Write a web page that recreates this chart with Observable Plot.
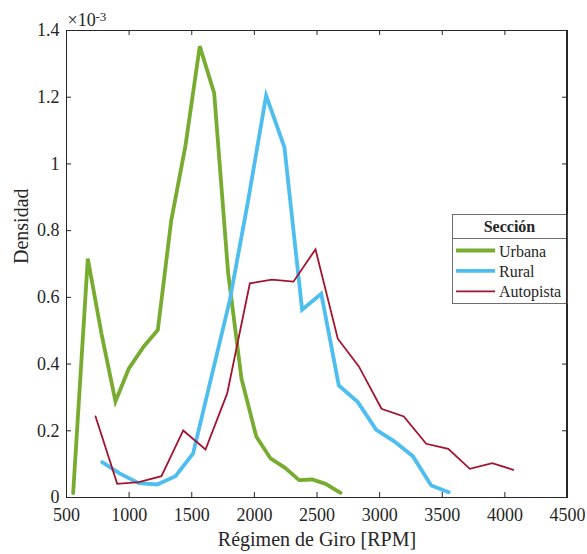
<!DOCTYPE html>
<html>
<head>
<meta charset="utf-8">
<script src="https://cdn.jsdelivr.net/npm/d3@7"></script>
<script src="https://cdn.jsdelivr.net/npm/@observablehq/plot@0.6"></script>
<style>
  html, body { margin: 0; padding: 0; background: #fff; }
  #chart svg { display: block; }
</style>
</head>
<body>
<div id="chart"></div>
<script>
// Engine speed (RPM) bin centres and density (×10⁻³) per road section
const urbanaRpm = [553, 670, 780, 891, 997, 1117, 1229, 1336, 1450, 1564, 1679, 1790, 1897, 2015, 2129, 2245, 2357, 2462, 2568, 2688];
const urbanaDens = [0.013, 0.716, 0.49, 0.288, 0.386, 0.453, 0.502, 0.830, 1.055, 1.353, 1.212, 0.675, 0.356, 0.183, 0.117, 0.089, 0.052, 0.054, 0.041, 0.014];

const ruralRpm = [785, 920, 1077, 1224, 1370, 1511, 1656, 1803, 1950, 2094, 2240, 2381, 2534, 2674, 2826, 2973, 3114, 3265, 3412, 3552];
const ruralDens = [0.106, 0.073, 0.043, 0.039, 0.064, 0.132, 0.36, 0.59, 0.89, 1.205, 1.050, 0.563, 0.611, 0.336, 0.286, 0.203, 0.169, 0.124, 0.036, 0.016];

const autopistaRpm = [732, 905, 1077, 1258, 1432, 1610, 1783, 1964, 2140, 2312, 2488, 2666, 2834, 3015, 3193, 3372, 3548, 3720, 3899, 4067];
const autopistaDens = [0.243, 0.041, 0.046, 0.064, 0.201, 0.144, 0.312, 0.642, 0.653, 0.647, 0.744, 0.476, 0.393, 0.266, 0.243, 0.161, 0.146, 0.086, 0.103, 0.083];

const sections = ["Urbana", "Rural", "Autopista"];
const sectionColors = ["#77AC30", "#4DBEEE", "#A2142F"];
const sectionWidths = [3.8, 3.8, 1.8];

const xTicks = [500, 1000, 1500, 2000, 2500, 3000, 3500, 4000, 4500];
const yTicks = [0, 0.2, 0.4, 0.6, 0.8, 1, 1.2, 1.4];
const yTickLabels = ["0", "0.2", "0.4", "0.6", "0.8", "1", "1.2", "1.4"];

const series = [
  {name: "Urbana", rpm: urbanaRpm, dens: urbanaDens},
  {name: "Rural", rpm: ruralRpm, dens: ruralDens},
  {name: "Autopista", rpm: autopistaRpm, dens: autopistaDens}
];
const rows = series.flatMap(s => s.rpm.map((r, i) => ({section: s.name, rpm: r, dens: s.dens[i]})));

const W = 587, H = 554;
const mL = 66, mR = 20, mT = 30, mB = 57;
const innerW = W - mL - mR, innerH = H - mT - mB;
const tickLen = 5;
const axisColor = "#262626";
const font = "'Liberation Serif', 'Times New Roman', serif";

const lineMarks = series.map((s, i) =>
  Plot.line(rows.filter(d => d.section === s.name), {
    x: "rpm", y: "dens", stroke: sectionColors[i], strokeWidth: sectionWidths[i],
    strokeLinejoin: "miter", strokeMiterlimit: 4
  })
);

const plot = Plot.plot({
  width: W, height: H,
  marginLeft: mL, marginRight: mR, marginTop: mT, marginBottom: mB,
  style: {fontFamily: font, fontSize: "18px", color: axisColor, background: "#fff"},
  x: {domain: [500, 4500]},
  y: {domain: [0, 1.4]},
  color: {domain: sections, range: sectionColors},
  marks: [
    ...lineMarks,
    Plot.frame({stroke: axisColor, strokeWidth: 1}),
    // inward ticks on all four sides
    Plot.tickX(xTicks, {x: d => d, insetTop: innerH - tickLen, stroke: axisColor}),
    Plot.tickX(xTicks, {x: d => d, insetBottom: innerH - tickLen, stroke: axisColor}),
    Plot.tickY(yTicks, {y: d => d, insetRight: innerW - tickLen, stroke: axisColor}),
    Plot.tickY(yTicks, {y: d => d, insetLeft: innerW - tickLen, stroke: axisColor}),
    Plot.axisX({ticks: xTicks, tickSize: 0, tickPadding: 11, label: null, tickFormat: d => String(d), fill: axisColor}),
    Plot.axisY({ticks: yTicks, tickSize: 0, tickPadding: 7, label: null, tickFormat: d => yTickLabels[yTicks.indexOf(d)], fill: axisColor}),
    Plot.text(["Régimen de Giro [RPM]"], {frameAnchor: "bottom", dy: 48, lineAnchor: "bottom", fontSize: 20, fill: axisColor}),
    Plot.text(["Densidad"], {frameAnchor: "left", dx: -39, rotate: -90, lineAnchor: "bottom", fontSize: 20, fill: axisColor}),
    Plot.text(["×10"], {frameAnchor: "top-left", dx: 1, dy: -5, textAnchor: "start", lineAnchor: "bottom", fontSize: 18, fill: axisColor}),
    Plot.text(["-3"], {frameAnchor: "top-left", dx: 29, dy: -10, textAnchor: "start", lineAnchor: "bottom", fontSize: 13, fill: axisColor})
  ]
});

// Legend box inside the axes, right side
const color = plot.scale("color");
const svg = d3.select(plot);
const lg = svg.append("g").attr("font-family", font).attr("fill", axisColor).attr("text-anchor", "start");
const box = {x0: 452, x1: W - mR, y0: 214, y1: 303, sep: 238.5};
lg.append("rect")
  .attr("x", box.x0 + 0.5).attr("y", box.y0 + 0.5)
  .attr("width", box.x1 - box.x0 - 0.5).attr("height", box.y1 - box.y0)
  .attr("fill", "#fff").attr("stroke", "#6e6e6e").attr("stroke-width", 1);
lg.append("line")
  .attr("x1", box.x0 + 0.5).attr("x2", box.x1)
  .attr("y1", box.sep).attr("y2", box.sep)
  .attr("stroke", "#6e6e6e").attr("stroke-width", 1);
lg.append("text")
  .attr("x", (box.x0 + box.x1) / 2).attr("y", 232)
  .attr("text-anchor", "middle").attr("font-size", 16).attr("font-weight", "bold")
  .text("Sección");
sections.forEach((s, i) => {
  const cy = 250.5 + i * 20.4;
  lg.append("line")
    .attr("x1", 456).attr("x2", 495).attr("y1", cy).attr("y2", cy)
    .attr("stroke", color.apply(s)).attr("stroke-width", sectionWidths[i]);
  lg.append("text")
    .attr("x", 499).attr("y", cy + 6)
    .attr("text-anchor", "start")
    .attr("font-size", 16)
    .text(s);
});
// keep the right axis line over the legend box
svg.append("line")
  .attr("x1", W - mR - 0.5).attr("x2", W - mR - 0.5).attr("y1", mT).attr("y2", H - mB)
  .attr("stroke", axisColor);

document.getElementById("chart").appendChild(plot);
</script>
</body>
</html>
